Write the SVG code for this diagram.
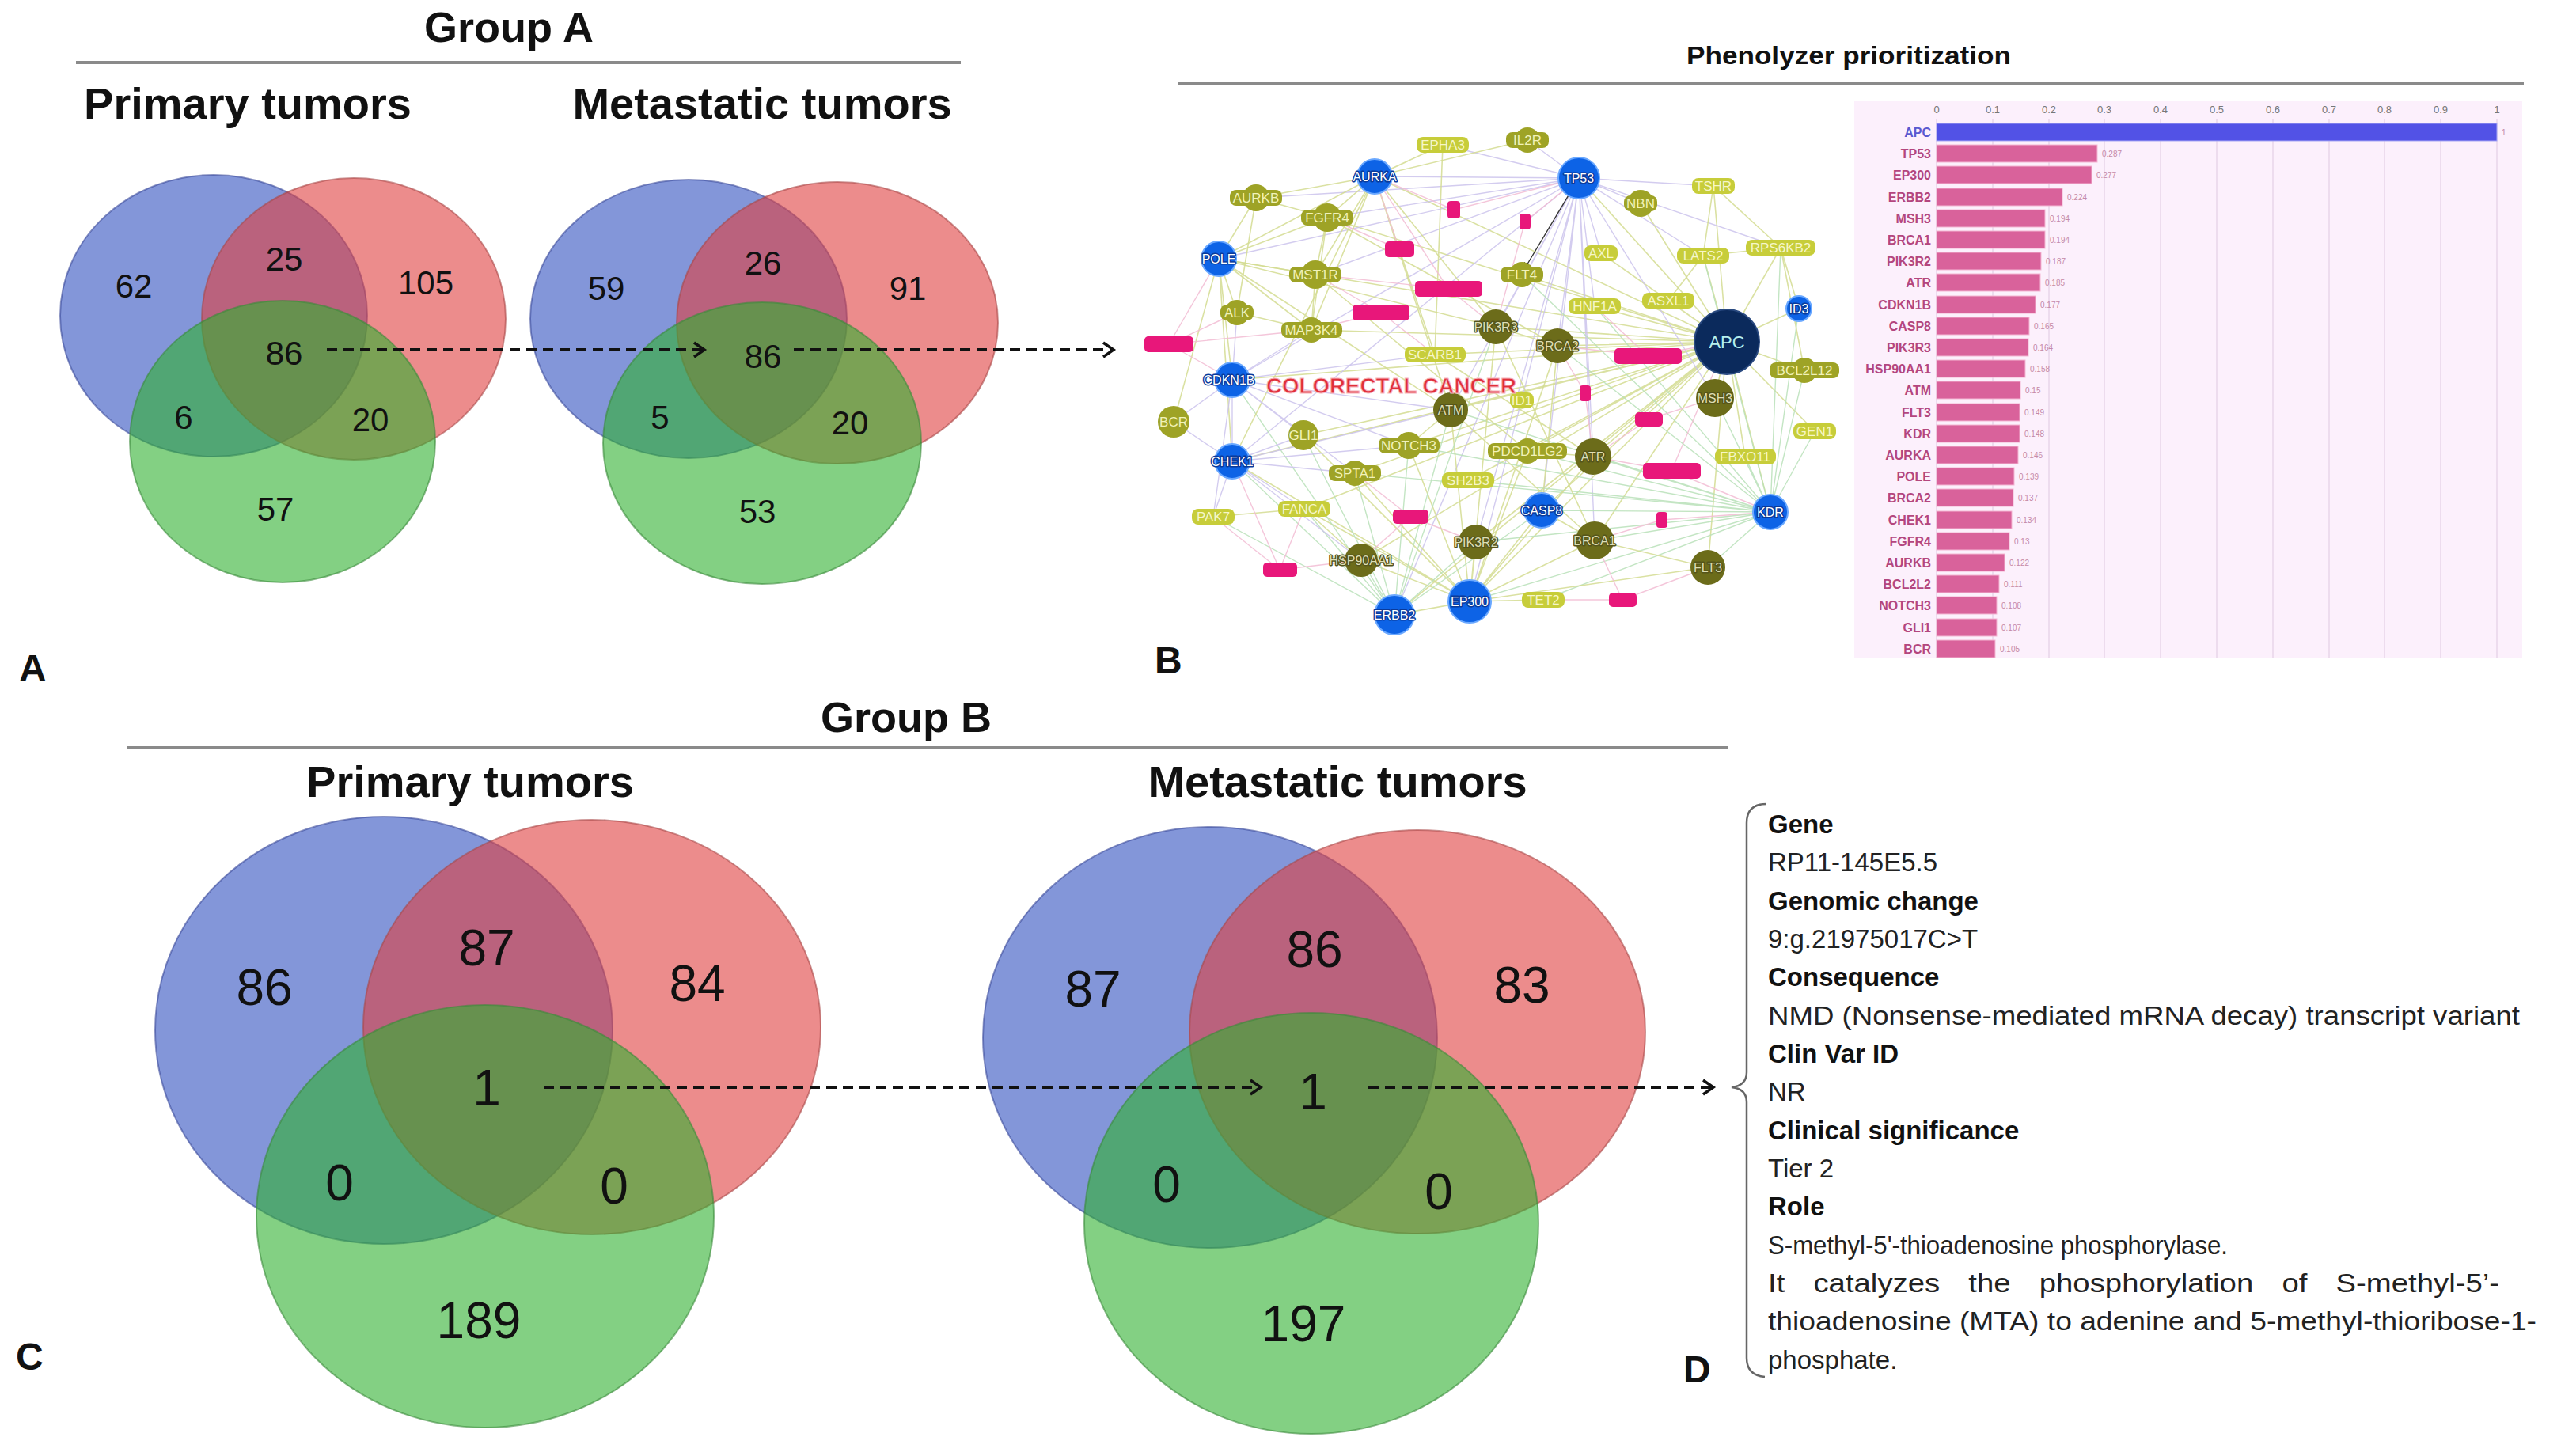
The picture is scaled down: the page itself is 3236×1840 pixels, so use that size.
<svg xmlns="http://www.w3.org/2000/svg" width="3236" height="1840" viewBox="0 0 3236 1840">
<defs>
<marker id="chev" markerUnits="userSpaceOnUse" markerWidth="20" markerHeight="24" refX="15" refY="11" orient="auto">
<path d="M2,2 L15,11 L2,20" fill="none" stroke="#111" stroke-width="3.5"/>
</marker>
<marker id="tri" markerUnits="userSpaceOnUse" markerWidth="12" markerHeight="12" refX="10" refY="5" orient="auto">
<path d="M0,0 L10,5 L0,10 Z" fill="#222"/>
</marker>
<style>
text{font-family:"Liberation Sans",Arial,sans-serif}
.hd{font-weight:bold;fill:#111;text-anchor:middle}
.rule{stroke:#8a8a8a;stroke-width:4}
.vb{fill:#3050c0;fill-opacity:.6;stroke:#3a4a9a;stroke-opacity:.6;stroke-width:2}
.vr{fill:#e04040;fill-opacity:.6;stroke:#a84848;stroke-opacity:.6;stroke-width:2}
.vg{fill:#30b030;fill-opacity:.6;stroke:#3a8a3a;stroke-opacity:.6;stroke-width:2}
.na{font-size:42px;fill:#111;text-anchor:middle}
.nB{font-size:64px;fill:#111;text-anchor:middle}
.dash{stroke:#111;stroke-width:4;stroke-dasharray:13 8;fill:none;marker-end:url(#chev)}
.lab{font-size:48px;font-weight:bold;fill:#111}
.e1{stroke:#d3dc92;stroke-width:1.6;fill:none;opacity:.85}
.e2{stroke:#b9e0b9;stroke-width:1.4;fill:none;opacity:.85}
.e3{stroke:#cbc3ec;stroke-width:1.4;fill:none;opacity:.85}
.e4{stroke:#f2bcd4;stroke-width:1.4;fill:none;opacity:.85}
.pk{fill:#e8177a}
.nb circle{fill:#0d63e6;stroke:#6aa8ff;stroke-width:2}
.nb text{fill:#fff;font-size:16px;text-anchor:middle;stroke:#0a3a9a;stroke-width:3;paint-order:stroke;stroke-linejoin:round}
.nd circle{fill:#6c6c1a}
.nd text{fill:#dedeb4;font-size:16px;text-anchor:middle;stroke:#55551a;stroke-width:3;paint-order:stroke;stroke-linejoin:round}
.nm circle,.nm rect{fill:#9ea326}
.nm text{fill:#f2f2b8;font-size:17px;text-anchor:middle}
.nl rect{fill:#c7cd3a}
.nl text{fill:#f6f6c8;font-size:17px;text-anchor:middle}
.bl{font-size:16px;font-weight:bold;fill:#b4467e;text-anchor:end}
.bv{font-size:10px;fill:#c58aa8}
.bar{fill:#d9629b;stroke:#f3b6d2;stroke-width:1}
.tk{font-size:13px;fill:#777;text-anchor:middle}
.gl{stroke:#eddcee;stroke-width:2}
.dt{font-size:33px;fill:#222}
.db{font-size:33px;fill:#111;font-weight:bold}
</style>
</defs>
<rect width="3236" height="1840" fill="#fff"/>

<g id="headings">
<text class="hd" x="643" y="53" font-size="54">Group A</text>
<line class="rule" x1="96" y1="79" x2="1214" y2="79"/>
<text class="hd" x="313" y="150" font-size="56">Primary tumors</text>
<text class="hd" x="963" y="150" font-size="56">Metastatic tumors</text>
<text class="hd" x="2336" y="81" font-size="31" textLength="410" lengthAdjust="spacingAndGlyphs">Phenolyzer prioritization</text>
<line class="rule" x1="1488" y1="105" x2="3189" y2="105" stroke-width="3"/>
<text class="hd" x="1145" y="925" font-size="54">Group B</text>
<line class="rule" x1="161" y1="945" x2="2184" y2="945"/>
<text class="hd" x="594" y="1007" font-size="56">Primary tumors</text>
<text class="hd" x="1690" y="1007" font-size="56">Metastatic tumors</text>
</g>

<g id="vennA1">
<ellipse class="vb" cx="270" cy="399" rx="194" ry="178"/>
<ellipse class="vr" cx="447" cy="403" rx="192" ry="178"/>
<ellipse class="vg" cx="357" cy="558" rx="193" ry="178"/>
<text class="na" x="169" y="376">62</text>
<text class="na" x="359" y="342">25</text>
<text class="na" x="538" y="372">105</text>
<text class="na" x="359" y="461">86</text>
<text class="na" x="232" y="542">6</text>
<text class="na" x="468" y="545">20</text>
<text class="na" x="348" y="658">57</text>
</g>
<g id="vennA2">
<ellipse class="vb" cx="870" cy="403" rx="200" ry="176"/>
<ellipse class="vr" cx="1058" cy="408" rx="203" ry="178"/>
<ellipse class="vg" cx="963" cy="560" rx="201" ry="178"/>
<text class="na" x="766" y="379">59</text>
<text class="na" x="964" y="347">26</text>
<text class="na" x="1147" y="379">91</text>
<text class="na" x="964" y="465">86</text>
<text class="na" x="834" y="542">5</text>
<text class="na" x="1074" y="549">20</text>
<text class="na" x="957" y="661">53</text>
</g>

<g id="vennB1">
<ellipse class="vb" cx="485" cy="1302" rx="289" ry="270"/>
<ellipse class="vr" cx="748" cy="1298" rx="289" ry="262"/>
<ellipse class="vg" cx="613" cy="1537" rx="289" ry="267"/>
<text class="nB" x="334" y="1270">86</text>
<text class="nB" x="615" y="1220">87</text>
<text class="nB" x="881" y="1265">84</text>
<text class="nB" x="615" y="1397">1</text>
<text class="nB" x="429" y="1517">0</text>
<text class="nB" x="776" y="1521">0</text>
<text class="nB" x="605" y="1691">189</text>
</g>
<g id="vennB2">
<ellipse class="vb" cx="1529" cy="1311" rx="287" ry="266"/>
<ellipse class="vr" cx="1791" cy="1304" rx="288" ry="255"/>
<ellipse class="vg" cx="1657" cy="1546" rx="287" ry="266"/>
<text class="nB" x="1381" y="1272">87</text>
<text class="nB" x="1661" y="1222">86</text>
<text class="nB" x="1923" y="1267">83</text>
<text class="nB" x="1659" y="1402">1</text>
<text class="nB" x="1474" y="1519">0</text>
<text class="nB" x="1818" y="1528">0</text>
<text class="nB" x="1647" y="1695">197</text>
</g>

<g id="net-edges">
<path class="e1" d="M2182 432L1995 225M2182 432L2152 323M2182 432L2250 313M2182 432L2108 380M2182 432L2015 387M2182 432L2023 320M2182 432L1968 437M2182 432L1890 413M2182 432L1813 448M2182 432L1833 518M2182 432L2167 503M2182 432L2013 577M2182 432L2015 683M2182 432L2158 717M2182 432L2237 647M2182 432L1948 645M2182 432L2273 390M2182 432L2280 468M2182 432L2293 545M2182 432L2205 577M2182 432L1930 570M2182 432L1557 480M2182 432L1540 327M2182 432L1662 347M2182 432L1677 275M2182 432L1737 223M2182 432L1557 583M2182 432L1780 563M2182 432L1857 760M2182 432L1762 777M2182 432L1720 708M2182 432L1865 685M2182 432L1855 607M2182 432L2165 235M2182 432L2073 257M2182 432L1923 347M2182 432L1657 417M2182 432L1647 550M2182 432L1712 598M2182 432L1648 643"/>
<path class="e3" d="M1995 225L1737 223M1995 225L1930 177M1995 225L2073 257M1995 225L2165 235M1995 225L2023 320M1995 225L2015 387M1995 225L1968 437M1995 225L1890 413M1995 225L1662 347M1995 225L1677 275M1995 225L1587 250M1995 225L1833 518M1995 225L2013 577M1995 225L1948 645M1995 225L2167 503M1995 225L2152 323M1995 225L1857 760M1995 225L1865 685M1995 225L1557 583M1995 225L1557 480M1995 225L1540 327M1995 225L1762 777M1995 225L2250 313M1995 225L1823 183M1995 225L2015 683"/>
<path class="e2" d="M2237 647L2158 717M2237 647L2015 683M2237 647L2013 577M2237 647L2167 503M2237 647L2293 545M2237 647L2205 577M2237 647L1930 570M2237 647L1948 645M2237 647L1950 758M2237 647L1857 760M2237 647L1865 685M2237 647L1833 518M2237 647L1968 437M2237 647L2015 387M2237 647L2273 390M2237 647L1923 347M2237 647L1780 563M2237 647L1855 607M2237 647L1712 598M2237 647L2280 468M2237 647L2152 323M2237 647L2250 313"/>
<path class="e1" d="M1857 760L1762 777M1857 760L1720 708M1857 760L1865 685M1857 760L2015 683M1857 760L1948 645M1857 760L1950 758M1857 760L2158 717M1857 760L1648 643M1857 760L1712 598M1857 760L1780 563M1857 760L1833 518M1857 760L1930 570M1857 760L2013 577M1857 760L1557 583M1857 760L1647 550M1857 760L1890 413M1857 760L1968 437"/>
<path class="e2" d="M1762 777L1720 708M1762 777L1648 643M1762 777L1712 598M1762 777L1865 685M1762 777L1948 645M1762 777L1533 653M1762 777L1647 550M1762 777L1780 563M1762 777L1557 583M1762 777L1833 518M1762 777L1557 480M1762 777L1890 413"/>
<path class="e1" d="M1737 223L1587 250M1737 223L1677 275M1737 223L1823 183M1737 223L1662 347M1737 223L1540 327M1737 223L1557 583M1737 223L1833 518M1737 223L1890 413M1737 223L1930 177M1737 223L1813 448M1737 223L1657 417M1540 327L1587 250M1540 327L1662 347M1540 327L1563 395M1540 327L1557 480M1540 327L1557 583M1540 327L1657 417M1540 327L1483 533M1540 327L1677 275M1540 327L1833 518M1540 327L1890 413"/>
<path class="e3" d="M1557 480L1483 533M1557 480L1557 583M1557 480L1647 550M1557 480L1563 395M1557 480L1657 417M1557 480L1813 448M1557 480L1833 518M1557 480L1533 653M1557 480L1780 563M1557 480L1712 598M1557 583L1483 533M1557 583L1533 653M1557 583L1648 643M1557 583L1647 550M1557 583L1712 598M1557 583L1720 708M1557 583L1833 518M1557 583L1780 563"/>
<path class="e1" d="M1677 275L1662 347M1677 275L1657 417M1563 395L1657 417M1662 347L1657 417M1587 250L1563 395M1890 413L1968 437M1833 518L1780 563M1823 183L1813 448M2165 235L2152 323M2165 235L2250 313M2250 313L2273 390M2250 313L2280 468M2152 323L2108 380M2250 313L2152 323M1587 250L1677 275M1648 643L1720 708M1533 653L1648 643M1930 570L2013 577M2015 683L2158 717M1948 645L2015 683M1890 413L2015 683M1968 437L1948 645M1833 518L2015 683M1813 448L2013 577M1662 347L1930 570M1677 275L1968 437"/>
<path class="e4" d="M1477 435L1540 327M1477 435L1557 480M1477 435L1563 395M1477 435L1657 417M1617 720L1557 583M1617 720L1648 643M1617 720L1720 708M1617 720L1533 653M1782 653L1712 598M1782 653L1865 685M1782 653L1720 708M2050 758L2015 683M2050 758L1950 758M2050 758L2158 717M2112 595L2182 432M2112 595L2237 647M2112 595L2013 577M2082 450L2182 432M2082 450L1968 437M2082 450L2015 387M1830 365L1890 413M1830 365L1737 223M1830 365L1662 347M1745 395L1662 347M1745 395L1657 417M1745 395L1813 448M1768 315L1737 223M1768 315L1677 275M2083 530L2013 577M2083 530L2167 503M2100 657L2015 683M2100 657L2237 647M2003 497L1968 437M2003 497L2013 577M1927 280L1995 225M1927 280L1890 413M1837 265L1737 223M1837 265L1995 225"/>
<path d="M1995 225L1925 342" stroke="#333" stroke-width="1.4" fill="none" marker-end="url(#tri)"/>
</g>

<g id="net-terms">
<rect class="pk" x="1829" y="254" width="16" height="22" rx="4"/>
<rect class="pk" x="1750" y="305" width="37" height="20" rx="5"/>
<rect class="pk" x="1920" y="270" width="14" height="20" rx="4"/>
<rect class="pk" x="1788" y="355" width="85" height="20" rx="5"/>
<rect class="pk" x="1709" y="385" width="72" height="20" rx="5"/>
<rect class="pk" x="1446" y="425" width="62" height="20" rx="5"/>
<rect class="pk" x="2040" y="440" width="85" height="20" rx="5"/>
<rect class="pk" x="1996" y="487" width="14" height="20" rx="4"/>
<rect class="pk" x="2066" y="521" width="35" height="18" rx="5"/>
<rect class="pk" x="2076" y="585" width="73" height="20" rx="5"/>
<rect class="pk" x="1760" y="644" width="45" height="18" rx="5"/>
<rect class="pk" x="2093" y="647" width="14" height="20" rx="4"/>
<rect class="pk" x="1596" y="711" width="43" height="18" rx="5"/>
<rect class="pk" x="2033" y="749" width="35" height="18" rx="5"/>
</g>

<g id="n-EPHA3" class="nl"><rect x="1790" y="173" width="66" height="20" rx="8"/><text x="1823" y="189">EPHA3</text></g>
<g id="n-TSHR" class="nl"><rect x="2138" y="225" width="54" height="20" rx="8"/><text x="2165" y="241">TSHR</text></g>
<g id="n-LATS2" class="nl"><rect x="2119" y="313" width="66" height="20" rx="8"/><text x="2152" y="329">LATS2</text></g>
<g id="n-RPS6KB2" class="nl"><rect x="2206" y="303" width="88" height="20" rx="8"/><text x="2250" y="319">RPS6KB2</text></g>
<g id="n-AXL" class="nl"><rect x="2002" y="310" width="42" height="20" rx="8"/><text x="2023" y="326">AXL</text></g>
<g id="n-HNF1A" class="nl"><rect x="1982" y="377" width="66" height="20" rx="8"/><text x="2015" y="393">HNF1A</text></g>
<g id="n-ASXL1" class="nl"><rect x="2075" y="370" width="66" height="20" rx="8"/><text x="2108" y="386">ASXL1</text></g>
<g id="n-SCARB1" class="nl"><rect x="1775" y="438" width="77" height="20" rx="8"/><text x="1813" y="454">SCARB1</text></g>
<g id="n-ID1" class="nl"><rect x="1908" y="496" width="30" height="20" rx="8"/><text x="1923" y="512">ID1</text></g>
<g id="n-GEN1" class="nl"><rect x="2266" y="535" width="54" height="20" rx="8"/><text x="2293" y="551">GEN1</text></g>
<g id="n-FBXO11" class="nl"><rect x="2167" y="567" width="77" height="20" rx="8"/><text x="2205" y="583">FBXO11</text></g>
<g id="n-SH2B3" class="nl"><rect x="1822" y="597" width="66" height="20" rx="8"/><text x="1855" y="613">SH2B3</text></g>
<g id="n-FANCA" class="nl"><rect x="1615" y="633" width="66" height="20" rx="8"/><text x="1648" y="649">FANCA</text></g>
<g id="n-PAK7" class="nl"><rect x="1506" y="643" width="54" height="20" rx="8"/><text x="1533" y="659">PAK7</text></g>
<g id="n-TET2" class="nl"><rect x="1923" y="748" width="54" height="20" rx="8"/><text x="1950" y="764">TET2</text></g>

<g id="n-IL2R" class="nm"><circle cx="1930" cy="177" r="16"/><rect x="1903" y="167" width="54" height="20" rx="8"/><text x="1930" y="183">IL2R</text></g>
<g id="n-AURKB" class="nm"><circle cx="1587" cy="250" r="17"/><rect x="1554" y="240" width="66" height="20" rx="8"/><text x="1587" y="256">AURKB</text></g>
<g id="n-NBN" class="nm"><circle cx="2073" cy="257" r="17"/><rect x="2052" y="247" width="42" height="20" rx="8"/><text x="2073" y="263">NBN</text></g>
<g id="n-FGFR4" class="nm"><circle cx="1677" cy="275" r="18"/><rect x="1644" y="265" width="66" height="20" rx="8"/><text x="1677" y="281">FGFR4</text></g>
<g id="n-MST1R" class="nm"><circle cx="1662" cy="347" r="18"/><rect x="1629" y="337" width="66" height="20" rx="8"/><text x="1662" y="353">MST1R</text></g>
<g id="n-FLT4" class="nm"><circle cx="1923" cy="347" r="16"/><rect x="1896" y="337" width="54" height="20" rx="8"/><text x="1923" y="353">FLT4</text></g>
<g id="n-ALK" class="nm"><circle cx="1563" cy="395" r="16"/><rect x="1542" y="385" width="42" height="20" rx="8"/><text x="1563" y="401">ALK</text></g>
<g id="n-MAP3K4" class="nm"><circle cx="1657" cy="417" r="16"/><rect x="1619" y="407" width="77" height="20" rx="8"/><text x="1657" y="423">MAP3K4</text></g>
<g id="n-BCL2L12" class="nm"><circle cx="2280" cy="468" r="16"/><rect x="2236" y="458" width="88" height="20" rx="8"/><text x="2280" y="474">BCL2L12</text></g>
<g id="n-BCR" class="nm"><circle cx="1483" cy="533" r="20"/><text x="1483" y="539">BCR</text></g>
<g id="n-GLI1" class="nm"><circle cx="1647" cy="550" r="19"/><text x="1647" y="556">GLI1</text></g>
<g id="n-NOTCH3" class="nm"><circle cx="1780" cy="563" r="17"/><rect x="1742" y="553" width="77" height="20" rx="8"/><text x="1780" y="569">NOTCH3</text></g>
<g id="n-PDCD1LG2" class="nm"><circle cx="1930" cy="570" r="16"/><rect x="1880" y="560" width="100" height="20" rx="8"/><text x="1930" y="576">PDCD1LG2</text></g>
<g id="n-SPTA1" class="nm"><circle cx="1712" cy="598" r="16"/><rect x="1679" y="588" width="66" height="20" rx="8"/><text x="1712" y="604">SPTA1</text></g>

<g id="n-PIK3R3" class="nd"><circle cx="1890" cy="413" r="22"/><text x="1890" y="419">PIK3R3</text></g>
<g id="n-BRCA2" class="nd"><circle cx="1968" cy="437" r="22"/><text x="1968" y="443">BRCA2</text></g>
<g id="n-ATM" class="nd"><circle cx="1833" cy="518" r="22"/><text x="1833" y="524">ATM</text></g>
<g id="n-MSH3" class="nd"><circle cx="2167" cy="503" r="24"/><text x="2167" y="509">MSH3</text></g>
<g id="n-ATR" class="nd"><circle cx="2013" cy="577" r="23"/><text x="2013" y="583">ATR</text></g>
<g id="n-BRCA1" class="nd"><circle cx="2015" cy="683" r="24"/><text x="2015" y="689">BRCA1</text></g>
<g id="n-PIK3R2" class="nd"><circle cx="1865" cy="685" r="22"/><text x="1865" y="691">PIK3R2</text></g>
<g id="n-HSP90AA1" class="nd"><circle cx="1720" cy="708" r="21"/><text x="1720" y="714">HSP90AA1</text></g>
<g id="n-FLT3" class="nd"><circle cx="2158" cy="717" r="22"/><text x="2158" y="723">FLT3</text></g>

<g id="n-AURKA" class="nb"><circle cx="1737" cy="223" r="22"/><text x="1737" y="229">AURKA</text></g>
<g id="n-TP53" class="nb"><circle cx="1995" cy="225" r="26"/><text x="1995" y="231">TP53</text></g>
<g id="n-POLE" class="nb"><circle cx="1540" cy="327" r="22"/><text x="1540" y="333">POLE</text></g>
<g id="n-ID3" class="nb"><circle cx="2273" cy="390" r="16"/><text x="2273" y="396">ID3</text></g>
<g id="n-CDKN1B" class="nb"><circle cx="1557" cy="480" r="22"/><text x="1553" y="486" font-size="14">CDKN1B</text></g>
<g id="n-CHEK1" class="nb"><circle cx="1557" cy="583" r="22"/><text x="1557" y="589">CHEK1</text></g>
<g id="n-CASP8" class="nb"><circle cx="1948" cy="645" r="22"/><text x="1948" y="651">CASP8</text></g>
<g id="n-KDR" class="nb"><circle cx="2237" cy="647" r="22"/><text x="2237" y="653">KDR</text></g>
<g id="n-EP300" class="nb"><circle cx="1857" cy="760" r="27"/><text x="1857" y="766">EP300</text></g>
<g id="n-ERBB2" class="nb"><circle cx="1762" cy="777" r="25"/><text x="1762" y="783">ERBB2</text></g>
<g id="n-APC"><circle cx="2182" cy="432" r="41" fill="#0b2a5c" stroke="#2a4a80" stroke-width="2"/><text x="2182" y="440" font-size="22" fill="#b8f0ee" text-anchor="middle">APC</text></g>

<g id="n-disease"><text x="1758" y="497" font-size="28" font-weight="bold" fill="#e0303a" stroke="#f7b8c0" stroke-width="1" text-anchor="middle" textLength="316" lengthAdjust="spacingAndGlyphs">COLORECTAL CANCER</text></g>

<g id="barchart">
<rect x="2343" y="128" width="844" height="704" fill="#fcf0fc"/>
<g>
<line class="gl" x1="2447" y1="150" x2="2447" y2="832"/>
<line class="gl" x1="2518" y1="150" x2="2518" y2="832"/>
<line class="gl" x1="2589" y1="150" x2="2589" y2="832"/>
<line class="gl" x1="2659" y1="150" x2="2659" y2="832"/>
<line class="gl" x1="2730" y1="150" x2="2730" y2="832"/>
<line class="gl" x1="2801" y1="150" x2="2801" y2="832"/>
<line class="gl" x1="2872" y1="150" x2="2872" y2="832"/>
<line class="gl" x1="2943" y1="150" x2="2943" y2="832"/>
<line class="gl" x1="3013" y1="150" x2="3013" y2="832"/>
<line class="gl" x1="3084" y1="150" x2="3084" y2="832"/>
<line class="gl" x1="3155" y1="150" x2="3155" y2="832"/>
</g>
<g>
<text class="tk" x="2447" y="143">0</text><text class="tk" x="2518" y="143">0.1</text><text class="tk" x="2589" y="143">0.2</text><text class="tk" x="2659" y="143">0.3</text><text class="tk" x="2730" y="143">0.4</text><text class="tk" x="2801" y="143">0.5</text><text class="tk" x="2872" y="143">0.6</text><text class="tk" x="2943" y="143">0.7</text><text class="tk" x="3013" y="143">0.8</text><text class="tk" x="3084" y="143">0.9</text><text class="tk" x="3155" y="143">1</text>
</g>
<rect x="2447" y="156" width="708" height="22" fill="#5252e6" stroke="#a8a8f4" stroke-width="1"/>
<text class="bl" x="2440" y="173" style="fill:#5a5ad0">APC</text><text class="bv" x="3161" y="171">1</text>
<rect class="bar" x="2447" y="183" width="203" height="22"/><text class="bl" x="2440" y="200">TP53</text><text class="bv" x="2656" y="198">0.287</text>
<rect class="bar" x="2447" y="210" width="196" height="22"/><text class="bl" x="2440" y="227">EP300</text><text class="bv" x="2649" y="225">0.277</text>
<rect class="bar" x="2447" y="238" width="159" height="22"/><text class="bl" x="2440" y="255">ERBB2</text><text class="bv" x="2612" y="253">0.224</text>
<rect class="bar" x="2447" y="265" width="137" height="22"/><text class="bl" x="2440" y="282">MSH3</text><text class="bv" x="2590" y="280">0.194</text>
<rect class="bar" x="2447" y="292" width="137" height="22"/><text class="bl" x="2440" y="309">BRCA1</text><text class="bv" x="2590" y="307">0.194</text>
<rect class="bar" x="2447" y="319" width="132" height="22"/><text class="bl" x="2440" y="336">PIK3R2</text><text class="bv" x="2585" y="334">0.187</text>
<rect class="bar" x="2447" y="346" width="131" height="22"/><text class="bl" x="2440" y="363">ATR</text><text class="bv" x="2584" y="361">0.185</text>
<rect class="bar" x="2447" y="374" width="125" height="22"/><text class="bl" x="2440" y="391">CDKN1B</text><text class="bv" x="2578" y="389">0.177</text>
<rect class="bar" x="2447" y="401" width="117" height="22"/><text class="bl" x="2440" y="418">CASP8</text><text class="bv" x="2570" y="416">0.165</text>
<rect class="bar" x="2447" y="428" width="116" height="22"/><text class="bl" x="2440" y="445">PIK3R3</text><text class="bv" x="2569" y="443">0.164</text>
<rect class="bar" x="2447" y="455" width="112" height="22"/><text class="bl" x="2440" y="472">HSP90AA1</text><text class="bv" x="2565" y="470">0.158</text>
<rect class="bar" x="2447" y="482" width="106" height="22"/><text class="bl" x="2440" y="499">ATM</text><text class="bv" x="2559" y="497">0.15</text>
<rect class="bar" x="2447" y="510" width="105" height="22"/><text class="bl" x="2440" y="527">FLT3</text><text class="bv" x="2558" y="525">0.149</text>
<rect class="bar" x="2447" y="537" width="105" height="22"/><text class="bl" x="2440" y="554">KDR</text><text class="bv" x="2558" y="552">0.148</text>
<rect class="bar" x="2447" y="564" width="103" height="22"/><text class="bl" x="2440" y="581">AURKA</text><text class="bv" x="2556" y="579">0.146</text>
<rect class="bar" x="2447" y="591" width="98" height="22"/><text class="bl" x="2440" y="608">POLE</text><text class="bv" x="2551" y="606">0.139</text>
<rect class="bar" x="2447" y="618" width="97" height="22"/><text class="bl" x="2440" y="635">BRCA2</text><text class="bv" x="2550" y="633">0.137</text>
<rect class="bar" x="2447" y="646" width="95" height="22"/><text class="bl" x="2440" y="663">CHEK1</text><text class="bv" x="2548" y="661">0.134</text>
<rect class="bar" x="2447" y="673" width="92" height="22"/><text class="bl" x="2440" y="690">FGFR4</text><text class="bv" x="2545" y="688">0.13</text>
<rect class="bar" x="2447" y="700" width="86" height="22"/><text class="bl" x="2440" y="717">AURKB</text><text class="bv" x="2539" y="715">0.122</text>
<rect class="bar" x="2447" y="727" width="79" height="22"/><text class="bl" x="2440" y="744">BCL2L2</text><text class="bv" x="2532" y="742">0.111</text>
<rect class="bar" x="2447" y="754" width="76" height="22"/><text class="bl" x="2440" y="771">NOTCH3</text><text class="bv" x="2529" y="769">0.108</text>
<rect class="bar" x="2447" y="782" width="76" height="22"/><text class="bl" x="2440" y="799">GLI1</text><text class="bv" x="2529" y="797">0.107</text>
<rect class="bar" x="2447" y="809" width="74" height="22"/><text class="bl" x="2440" y="826">BCR</text><text class="bv" x="2527" y="824">0.105</text>
</g>

<g id="panelD">
<path d="M2232,1016 Q2207,1016 2207,1040 L2207,1355 Q2207,1372 2188,1374 Q2207,1376 2207,1393 L2207,1716 Q2207,1738 2230,1740" fill="none" stroke="#666" stroke-width="2.5"/>
<text class="db" x="2234" y="1053">Gene</text>
<text class="dt" x="2234" y="1101">RP11-145E5.5</text>
<text class="db" x="2234" y="1150">Genomic change</text>
<text class="dt" x="2234" y="1198">9:g.21975017C&gt;T</text>
<text class="db" x="2234" y="1246">Consequence</text>
<text class="dt" x="2234" y="1295" textLength="950" lengthAdjust="spacingAndGlyphs">NMD (Nonsense-mediated mRNA decay) transcript variant</text>
<text class="db" x="2234" y="1343">Clin Var ID</text>
<text class="dt" x="2234" y="1391">NR</text>
<text class="db" x="2234" y="1440">Clinical significance</text>
<text class="dt" x="2234" y="1488">Tier 2</text>
<text class="db" x="2234" y="1536">Role</text>
<text class="dt" x="2234" y="1585" textLength="581" lengthAdjust="spacingAndGlyphs">S-methyl-5'-thioadenosine phosphorylase.</text>
<text class="dt" x="2234" y="1633" word-spacing="22" textLength="924" lengthAdjust="spacingAndGlyphs">It catalyzes the phosphorylation of S-methyl-5’-</text>
<text class="dt" x="2234" y="1681" textLength="971" lengthAdjust="spacingAndGlyphs">thioadenosine (MTA) to adenine and 5-methyl-thioribose-1-</text>
<text class="dt" x="2234" y="1730">phosphate.</text>
</g>

<g id="connectors">
<line class="dash" x1="413" y1="442" x2="890" y2="442"/>
<line class="dash" x1="1003" y1="442" x2="1407" y2="442"/>
<line class="dash" x1="687" y1="1374" x2="1593" y2="1374"/>
<line class="dash" x1="1729" y1="1374" x2="2165" y2="1374"/>
</g>

<g id="panel-labels">
<text class="lab" x="24" y="861">A</text>
<text class="lab" x="1459" y="851">B</text>
<text class="lab" x="20" y="1731">C</text>
<text class="lab" x="2127" y="1747">D</text>
</g>
</svg>
